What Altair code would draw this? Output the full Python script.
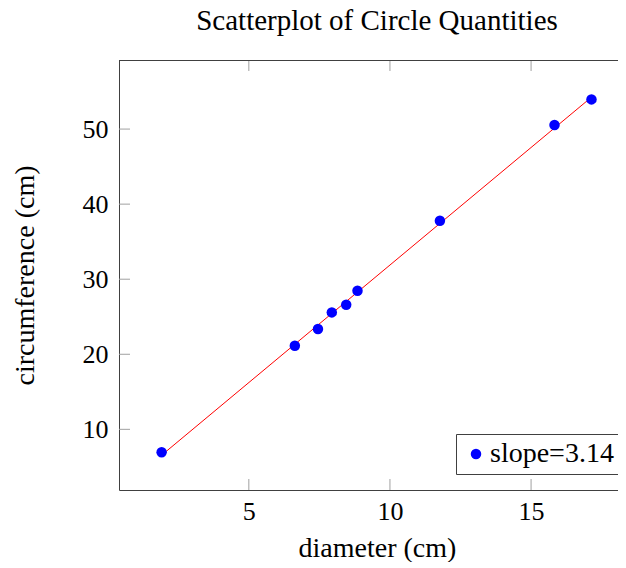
import altair as alt
import pandas as pd

# Data
diameter = [1.91, 6.63, 7.45, 7.94, 8.45, 8.85, 11.77, 15.83, 17.14]
circumference = [6.94, 21.14, 23.36, 25.58, 26.6, 28.46, 37.79, 50.55, 53.95]
series_label = "slope=3.14"
title_text = ["Scatterplot of Circle Quantities"]
x_ticks = [5, 10, 15]
y_ticks = [10, 20, 30, 40, 50]
x_domain = [0.4, 18.08]
y_domain = [1.92, 59.2]

W, H = 499, 430
FONT = "Liberation Serif"
FRAME = "#404040"
TICK = "#a0a0a0"

df = pd.DataFrame({"d": diameter, "c": circumference,
                   "s": [series_label] * len(diameter)})
xt = pd.DataFrame({"d": x_ticks})
yt = pd.DataFrame({"c": y_ticks})
tt = pd.DataFrame({"label": title_text})

xs = alt.Scale(domain=x_domain, nice=False, zero=False)
ys = alt.Scale(domain=y_domain, nice=False, zero=False)

xaxis = alt.Axis(values=x_ticks, ticks=False, grid=False,
                 domainColor=FRAME, domainWidth=1,
                 labelFont=FONT, labelFontSize=26, labelColor="black",
                 labelPadding=8,
                 title="diameter (cm)", titleFont=FONT, titleFontSize=28,
                 titleFontWeight="normal", titleColor="black",
                 titleX=258, titleY=66, titleAlign="center",
                 titleBaseline="alphabetic")
yaxis = alt.Axis(values=y_ticks, ticks=False, grid=False,
                 domainColor=FRAME, domainWidth=1,
                 labelFont=FONT, labelFontSize=26, labelColor="black",
                 labelPadding=11,
                 title="circumference (cm)", titleFont=FONT, titleFontSize=28,
                 titleFontWeight="normal", titleColor="black",
                 titleX=-86, titleY=215, titleAngle=270, titleAlign="center",
                 titleBaseline="alphabetic")

X = lambda: alt.X("d:Q", scale=xs, axis=xaxis)
Y = lambda: alt.Y("c:Q", scale=ys, axis=yaxis)

base = alt.Chart(df)

line = base.transform_regression("d", "c").mark_line(
    color="#ff0000", strokeWidth=1
).encode(x=X(), y=Y())

points = base.mark_circle(size=110, opacity=1).encode(
    x=X(), y=Y(),
    color=alt.Color(
        "s:N",
        scale=alt.Scale(domain=[series_label], range=["#0000ff"]),
        legend=alt.Legend(
            title=None, orient="none", legendX=337, legendY=374,
            strokeColor=FRAME, fillColor="white", padding=6,
            labelFont=FONT, labelFontSize=28, labelColor="black",
            symbolSize=110, symbolType="circle", symbolStrokeWidth=0,
            labelOffset=0,
        ),
    ),
)

top_frame = alt.Chart(tt).mark_rule(color=FRAME, strokeWidth=1).encode(
    x=alt.value(0), x2=alt.value(W), y=alt.value(0.5)
)

xt_bottom = alt.Chart(xt).mark_rule(color=TICK).encode(
    x=X(), y=alt.value(H - 11), y2=alt.value(H)
)
xt_top = alt.Chart(xt).mark_rule(color=TICK).encode(
    x=X(), y=alt.value(0), y2=alt.value(11)
)
yt_left = alt.Chart(yt).mark_rule(color=TICK).encode(
    y=Y(), x=alt.value(0), x2=alt.value(11)
)

title = alt.Chart(tt).mark_text(
    font=FONT, fontSize=29, color="black", align="center",
    baseline="alphabetic"
).encode(text="label:N", x=alt.value(258), y=alt.value(-30))

chart = alt.layer(
    xt_bottom, xt_top, yt_left, top_frame, line, points, title
).properties(
    width=W, height=H,
    autosize=alt.AutoSizeParams(type="none"),
    padding={"left": 111, "top": 52, "right": 0, "bottom": 72},
).configure(
    background="white", font=FONT
).configure_view(
    stroke=None
).configure_axis(
    labelFont=FONT, titleFont=FONT
).configure_legend(
    labelFont=FONT
)

chart.save("out.html", embed_options={"renderer": "svg", "actions": False})
